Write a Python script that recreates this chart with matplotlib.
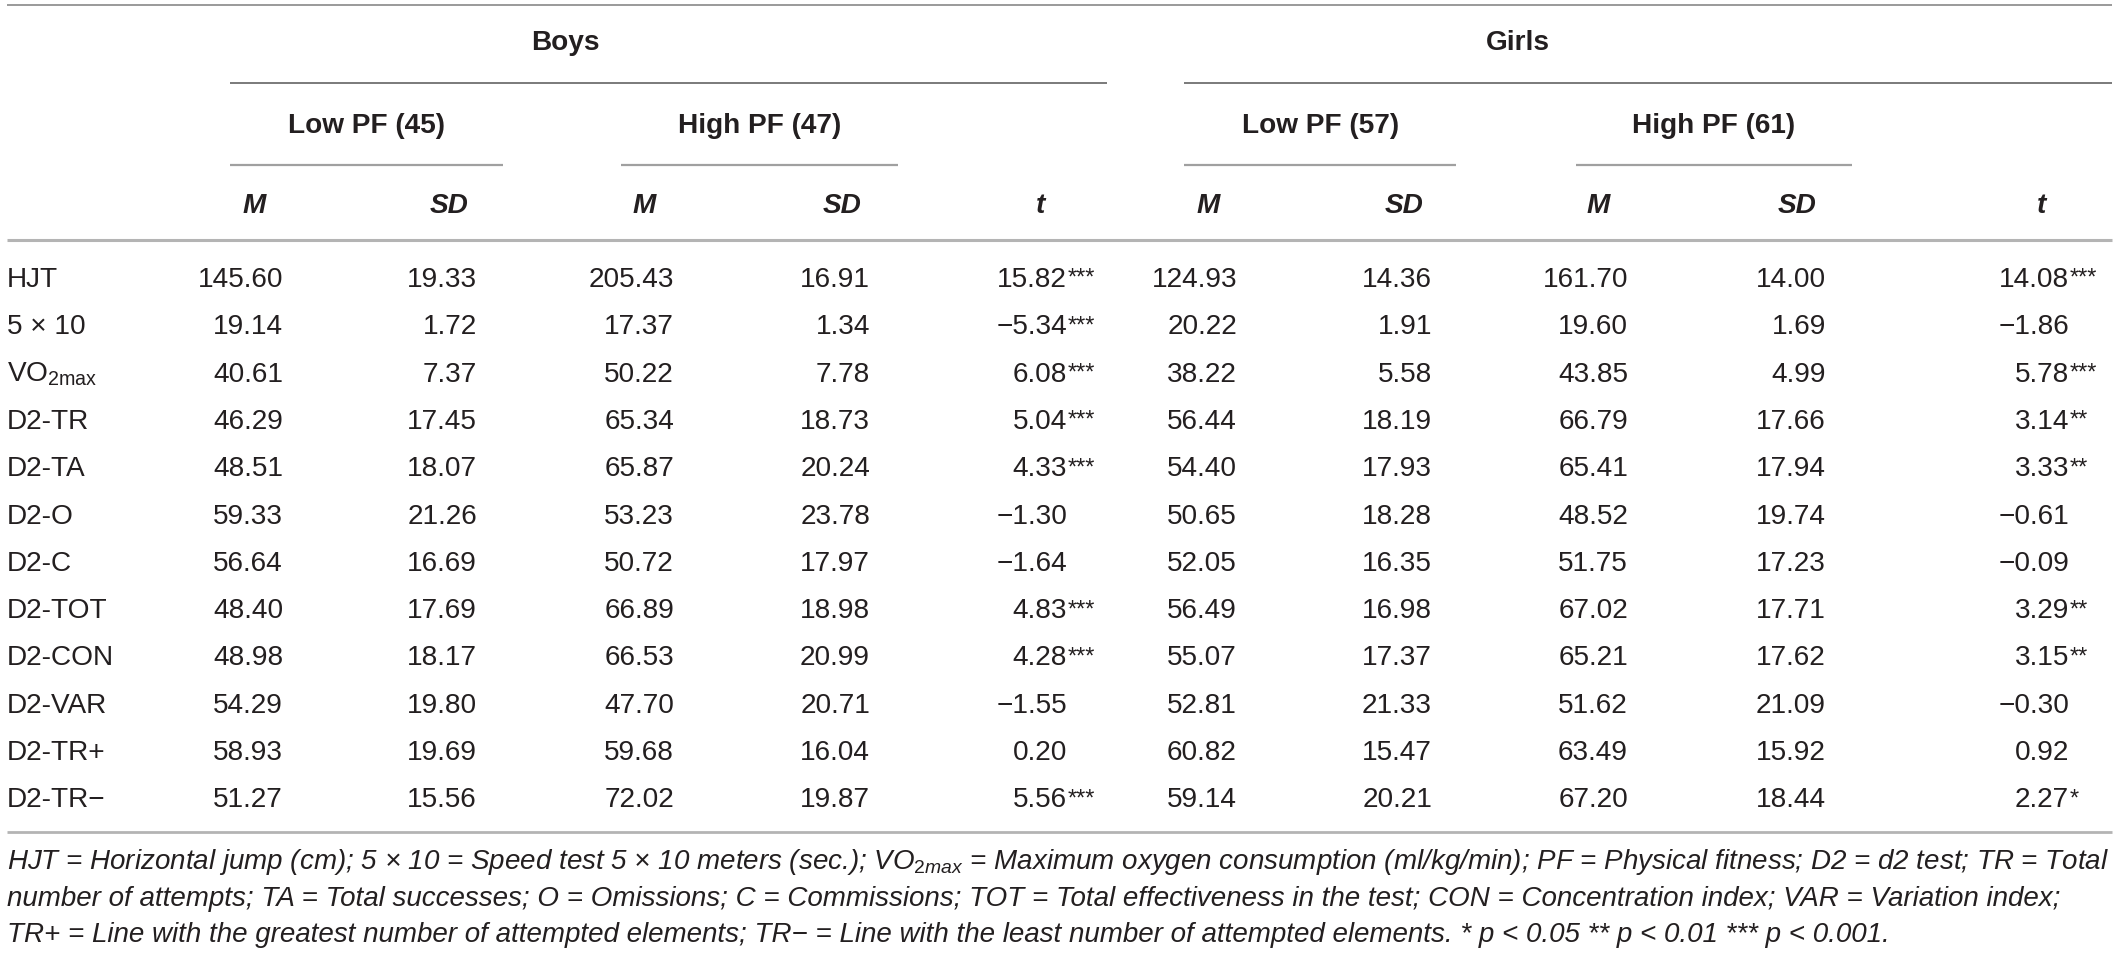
import matplotlib
matplotlib.use("Agg")
import matplotlib.pyplot as plt

plt.rcParams["font.family"] = ["Liberation Sans", "DejaVu Sans"]
plt.rcParams["mathtext.fontset"] = "custom"
plt.rcParams["mathtext.rm"] = "Liberation Sans"
plt.rcParams["mathtext.it"] = "Liberation Sans:italic"
plt.rcParams["mathtext.bf"] = "Liberation Sans:bold"

# ---- table data ----
rows = ["HJT", "5 \u00d7 10", r"VO$_{\mathrm{2max}}$", "D2-TR", "D2-TA", "D2-O", "D2-C",
        "D2-TOT", "D2-CON", "D2-VAR", "D2-TR+", "D2-TR\u2212"]

boys_low_m = [145.60, 19.14, 40.61, 46.29, 48.51, 59.33, 56.64, 48.40, 48.98, 54.29, 58.93, 51.27]
boys_low_sd = [19.33, 1.72, 7.37, 17.45, 18.07, 21.26, 16.69, 17.69, 18.17, 19.80, 19.69, 15.56]
boys_high_m = [205.43, 17.37, 50.22, 65.34, 65.87, 53.23, 50.72, 66.89, 66.53, 47.70, 59.68, 72.02]
boys_high_sd = [16.91, 1.34, 7.78, 18.73, 20.24, 23.78, 17.97, 18.98, 20.99, 20.71, 16.04, 19.87]
boys_t = [15.82, -5.34, 6.08, 5.04, 4.33, -1.30, -1.64, 4.83, 4.28, -1.55, 0.20, 5.56]
boys_sig = ["***", "***", "***", "***", "***", "", "", "***", "***", "", "", "***"]

girls_low_m = [124.93, 20.22, 38.22, 56.44, 54.40, 50.65, 52.05, 56.49, 55.07, 52.81, 60.82, 59.14]
girls_low_sd = [14.36, 1.91, 5.58, 18.19, 17.93, 18.28, 16.35, 16.98, 17.37, 21.33, 15.47, 20.21]
girls_high_m = [161.70, 19.60, 43.85, 66.79, 65.41, 48.52, 51.75, 67.02, 65.21, 51.62, 63.49, 67.20]
girls_high_sd = [14.00, 1.69, 4.99, 17.66, 17.94, 19.74, 17.23, 17.71, 17.62, 21.09, 15.92, 18.44]
girls_t = [14.08, -1.86, 5.78, 3.14, 3.33, -0.61, -0.09, 3.29, 3.15, -0.30, 0.92, 2.27]
girls_sig = ["***", "", "***", "**", "**", "", "", "**", "**", "", "", "*"]

groups = ["Boys", "Girls"]
subgroups = ["Low PF (45)", "High PF (47)", "Low PF (57)", "High PF (61)"]
col_heads = ["M", "SD", "M", "SD", "t", "M", "SD", "M", "SD", "t"]

notes = [
    r"HJT = Horizontal jump (cm); 5 \u00d7 10 = Speed test 5 \u00d7 10 meters (sec.); $\mathit{VO}_{\mathit{2max}}$ = Maximum oxygen consumption (ml/kg/min); PF = Physical fitness; D2 = d2 test; TR = Total",
    "number of attempts; TA = Total successes; O = Omissions; C = Commissions; TOT = Total effectiveness in the test; CON = Concentration index; VAR = Variation index;",
    "TR+ = Line with the greatest number of attempted elements; TR\u2212 = Line with the least number of attempted elements. * p < 0.05 ** p < 0.01 *** p < 0.001.",
]
notes[0] = notes[0].replace(r"\u00d7", "\u00d7")

W, H = 2118, 955
fig = plt.figure(figsize=(W / 100, H / 100), dpi=100)
ax = fig.add_axes([0, 0, 1, 1])
ax.set_xlim(0, W)
ax.set_ylim(H, 0)
ax.axis("off")

ink = "#231f20"
fs = 20.2


def fmt(v):
    return f"{v:.2f}".replace("-", "\u2212")


# ---- rules ----
def rule(x0, x1, y, color, lw):
    ax.plot([x0, x1], [y, y], color=color, lw=lw, solid_capstyle="butt")


rule(7, 2112, 5, "#9a9a9a", 1.4)
rule(230, 1107, 83, "#7a7a7a", 1.4)
rule(1184, 2112, 83, "#7a7a7a", 1.4)
for x0, x1 in [(230, 503), (621, 898), (1184, 1456), (1576, 1852)]:
    rule(x0, x1, 165, "#a0a0a0", 1.6)
rule(7, 2112, 240, "#b4b4b4", 2.2)
rule(7, 2112, 832, "#b4b4b4", 2.0)

# ---- header ----
for name, xc in zip(groups, [565, 1518]):
    ax.text(xc, 50, name, ha="center", va="baseline", fontsize=fs, fontweight="bold", color=ink)
for name, xc in zip(subgroups, [367, 760, 1321, 1714]):
    ax.text(xc, 133, name, ha="center", va="baseline", fontsize=fs, fontweight="bold", color=ink)
for name, xc in zip(col_heads, [254, 449, 644, 842, 1041, 1208, 1404, 1598, 1797, 2042]):
    ax.text(xc, 213, name, ha="center", va="baseline", fontsize=fs, fontweight="bold",
            style="italic", color=ink)

# ---- body ----
cols = [boys_low_m, boys_low_sd, boys_high_m, boys_high_sd, boys_t,
        girls_low_m, girls_low_sd, girls_high_m, girls_high_sd, girls_t]
right_edges = [283, 477, 674, 870, 1067, 1237, 1432, 1628, 1826, 2069]
sigs = {4: boys_sig, 9: girls_sig}

y0, dy = 287, 47.3
for i, label in enumerate(rows):
    y = y0 + i * dy
    ax.text(7, y, label, ha="left", va="baseline", fontsize=fs, color=ink)
    for j, (col, xr) in enumerate(zip(cols, right_edges)):
        ax.text(xr, y, fmt(col[i]), ha="right", va="baseline", fontsize=fs, color=ink)
        if j in sigs and sigs[j][i]:
            ax.text(xr + 1, y - 2, sigs[j][i], ha="left", va="baseline", fontsize=17, color=ink)

# ---- footnote ----
fig.canvas.draw()
renderer = fig.canvas.get_renderer()
note_texts = []
for k, (line, yb) in enumerate(zip(notes, [869, 906, 942])):
    t = ax.text(7, yb, line, ha="left", va="baseline", fontsize=18, style="italic", color=ink)
    note_texts.append(t)
w0 = note_texts[0].get_window_extent(renderer).width
w1 = note_texts[1].get_window_extent(renderer).width
note_fs = 18 * 2100 / max(w0, w1)
for t in note_texts:
    t.set_fontsize(note_fs)

fig.savefig("out.png", dpi=100)
